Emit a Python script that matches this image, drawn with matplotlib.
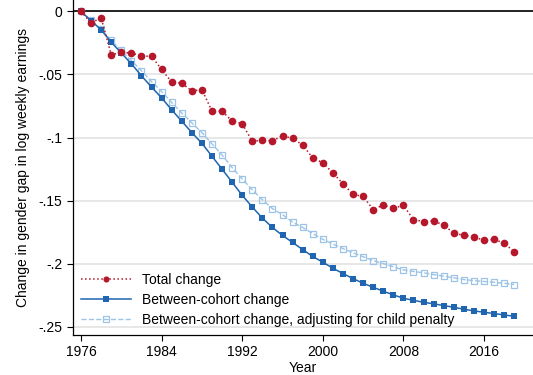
import numpy as np
import matplotlib
matplotlib.use("Agg")
import matplotlib.pyplot as plt

plt.rcParams['font.family'] = ['Liberation Sans', 'DejaVu Sans']

years = np.arange(1976, 2020)

total_change = [0, -0.0093, -0.005, -0.0344, -0.0325, -0.033, -0.0355, -0.0355,
                -0.046, -0.056, -0.057, -0.063, -0.062, -0.079, -0.079, -0.087,
                -0.089, -0.103, -0.102, -0.1025, -0.0987, -0.1005, -0.106, -0.116,
                -0.120, -0.128, -0.1365, -0.145, -0.1466, -0.157, -0.1534, -0.156,
                -0.1537, -0.165, -0.1665, -0.166, -0.1694, -0.1757, -0.1775, -0.1786,
                -0.1815, -0.1807, -0.1836, -0.1905]

between_cohort = [0, -0.0074, -0.0146, -0.0244, -0.033, -0.0415, -0.051, -0.060,
                  -0.0685, -0.078, -0.087, -0.096, -0.1045, -0.1148, -0.125, -0.1354,
                  -0.1457, -0.155, -0.1638, -0.1712, -0.1775, -0.1831, -0.1887, -0.1942,
                  -0.1987, -0.2035, -0.2077, -0.2117, -0.2154, -0.2186, -0.2217, -0.2246,
                  -0.2273, -0.2289, -0.2305, -0.2317, -0.2331, -0.2344, -0.236, -0.2373,
                  -0.2384, -0.2394, -0.2405, -0.2416]

adj_child_penalty = [0, -0.007, -0.014, -0.023, -0.031, -0.039, -0.047, -0.0556,
                     -0.0635, -0.0722, -0.0805, -0.0884, -0.096, -0.105, -0.1138, -0.1238,
                     -0.1327, -0.1414, -0.1492, -0.1563, -0.161, -0.167, -0.1712, -0.176,
                     -0.1806, -0.1843, -0.1879, -0.1913, -0.1944, -0.1974, -0.1998, -0.2024,
                     -0.2048, -0.2061, -0.2071, -0.2085, -0.2098, -0.2111, -0.2125, -0.2133,
                     -0.214, -0.2146, -0.2154, -0.2164]

yticks = [0, -0.05, -0.1, -0.15, -0.2, -0.25]
ytick_labels = ['0', '-.05', '-.1', '-.15', '-.2', '-.25']
xticks = [1976, 1984, 1992, 2000, 2008, 2016]

red = '#b5172b'
blue = '#1f65b0'
light_blue = '#9dc3e6'

fig = plt.figure(figsize=(5.33, 3.75), dpi=100)
ax = fig.add_axes([0.137, 0.107, 0.863, 0.893])

# gridlines and the zero line
for y in yticks[1:]:
    ax.axhline(y, color='#e3e3e3', lw=1.2, zorder=0)
ax.axhline(0, color='#222222', lw=1.4, zorder=1)

ax.plot(years, adj_child_penalty, color=light_blue, lw=1, ls='--', marker='s',
        markersize=4.6, markerfacecolor='none', markeredgecolor=light_blue,
        markeredgewidth=0.9, zorder=2, label='Between-cohort change, adjusting for child penalty')
ax.plot(years, between_cohort, color=blue, lw=1.1, marker='s', markersize=5,
        markeredgewidth=0, zorder=3, label='Between-cohort change')
ax.plot(years, total_change, color=red, lw=1.1, ls=':', marker='o', markersize=5.5,
        markeredgewidth=0, zorder=4, label='Total change')

ax.set_xlim(1975.21, 2020.86)
ax.set_ylim(-0.2563, 0.009)
ax.set_xticks(xticks)
ax.set_yticks(yticks)
ax.set_yticklabels(ytick_labels)
ax.tick_params(labelsize=10, length=4, width=0.8)
ax.set_xlabel('Year', fontsize=10, labelpad=1)
ax.set_ylabel('Change in gender gap in log weekly earnings', fontsize=10, labelpad=6)

for side in ['top', 'right']:
    ax.spines[side].set_visible(False)
ax.spines['left'].set_linewidth(0.9)
ax.spines['bottom'].set_linewidth(0.9)

handles, labels = ax.get_legend_handles_labels()
ax.legend(handles[::-1], labels[::-1], loc='lower left', bbox_to_anchor=(0.0, 0.0),
          frameon=False, fontsize=10, handlelength=3.6, handletextpad=0.8,
          labelspacing=0.45, borderaxespad=0.15, markerscale=0.8)

fig.savefig('out.png', dpi=100)
